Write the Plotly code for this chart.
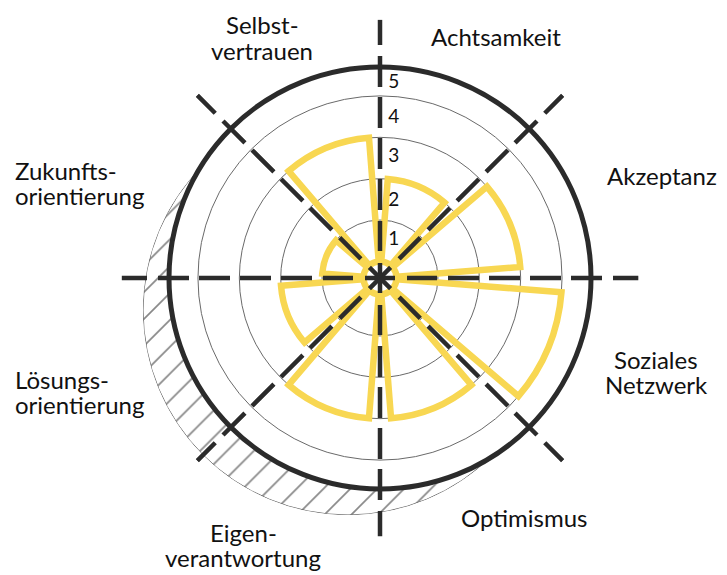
import plotly.graph_objects as go

# ---------------- data ----------------
categories = ["Akzeptanz", "Achtsamkeit", "Selbstvertrauen", "Zukunftsorientierung",
              "Lösungsorientierung", "Eigenverantwortung", "Optimismus", "Soziales Netzwerk"]
category_labels = ["Akzeptanz", "Achtsamkeit", "Selbst-\nvertrauen", "Zukunfts-\norientierung",
                   "Lösungs-\norientierung", "Eigen-\nverantwortung", "Optimismus",
                   "Soziales\nNetzwerk"]
values = [3, 2, 3, 1, 2, 3, 3, 4]
ring_values = [1, 2, 3, 4]
scale_labels = ["1", "2", "3", "4", "5"]
scale_label_values = [0.55, 1.5, 2.55, 3.5, 4.35]

# ---------------- style / layout ----------------
SCREEN_W, SCREEN_H = 727, 575
OFF = 8                       # default page margin of the html body
W, H = SCREEN_W - OFF, SCREEN_H - OFF
FONT = "Lato"
YELLOW = "#F8D752"
DARK = "#2b2b2b"
R_RANGE = [-0.4, 4.7]
RAY_END = 5.85
CX, CY, R_MAIN = 380, 278, 211
R_RAYS = R_MAIN * (RAY_END - R_RANGE[0]) / (R_RANGE[1] - R_RANGE[0])


def dom(cx, cy, r):
    cx, cy = cx - OFF, cy - OFF
    return dict(x=[(cx - r) / W, (cx + r) / W], y=[1 - (cy + r) / H, 1 - (cy - r) / H])


main_dom = dom(CX, CY, R_MAIN)
ray_dom = dom(CX, CY, R_RAYS)
shadow_dom = dom(348, 310, 205)

fig = go.Figure()

# hatched shadow disc (drawn first, behind)
fig.add_trace(go.Barpolar(
    r=[5], theta=[225], width=[360], subplot="polar",
    marker=dict(color="white",
                pattern=dict(shape="/", size=19, solidity=0.09, fgcolor="#111", bgcolor="white"),
                line=dict(color="#666", width=1)),
    hoverinfo="skip"))

# main bars
fig.add_trace(go.Barpolar(
    r=values, theta=categories, width=[0.8] * len(values), subplot="polar2",
    marker=dict(color="rgba(0,0,0,0)", line=dict(color=YELLOW, width=6.5)),
    hoverinfo="skip"))

# dashed axis rays (overlay polar, same radial scale, larger extent)
ray_angles = [0, 45, 90, 135, 180, 225, 270, 315]
for a in ray_angles:
    fig.add_trace(go.Scatterpolar(
        r=[R_RANGE[0], RAY_END], theta=[a, a], mode="lines", subplot="polar3",
        line=dict(color=DARK, width=4.5,
                  dash="15px,12px,30px,11px,31px,10px,31px,10px,31px,10px,31px,11px,40px"),
        hoverinfo="skip"))

fig.update_layout(
    width=W, height=H, margin=dict(l=0, r=0, t=0, b=0),
    paper_bgcolor="white", showlegend=False,
    font=dict(family=FONT, color="#111", size=20),
    polar=dict(domain=shadow_dom, bgcolor="rgba(0,0,0,0)",
               radialaxis=dict(visible=False, range=[0, 5]),
               angularaxis=dict(visible=False)),
    polar2=dict(domain=main_dom, bgcolor="white",
                radialaxis=dict(range=R_RANGE, tickvals=ring_values, showticklabels=False,
                                ticks="", showline=False, gridcolor="#6a6a6a", gridwidth=0.8),
                angularaxis=dict(type="category", categoryarray=categories,
                                 rotation=22.5, direction="counterclockwise",
                                 showticklabels=False, ticks="", showgrid=False,
                                 showline=True, linecolor=DARK, linewidth=5)),
    polar3=dict(domain=ray_dom, bgcolor="rgba(0,0,0,0)",
                radialaxis=dict(range=[R_RANGE[0], RAY_END], angle=90, tickangle=90,
                                tickvals=scale_label_values,
                                ticktext=scale_labels, showgrid=False, showline=False,
                                ticks="outside", ticklen=4, tickcolor="rgba(0,0,0,0)",
                                tickfont=dict(size=19, color="#111", family=FONT)),
                angularaxis=dict(visible=False, rotation=0, direction="counterclockwise")),
)

# category labels, one annotation per line: (x, first-line centre y, anchor)
label_pos = [(605, 175, "left"), (496, 37, "center"), (262, 25, "center"), (13, 170, "left"),
             (13, 379, "left"), (243, 532, "center"), (524, 517, "center"), (656, 359, "center")]
LINE_STEP = 25
for txt, (px, py, anchor) in zip(category_labels, label_pos):
    for i, line in enumerate(txt.split("\n")):
        fig.add_annotation(text=line, x=(px - OFF) / W, y=1 - (py + i * LINE_STEP - OFF) / H,
                           xref="paper", yref="paper", xanchor=anchor, yanchor="middle",
                           showarrow=False, font=dict(family=FONT, size=24, color="#111"))

fig.write_html("out.html")
